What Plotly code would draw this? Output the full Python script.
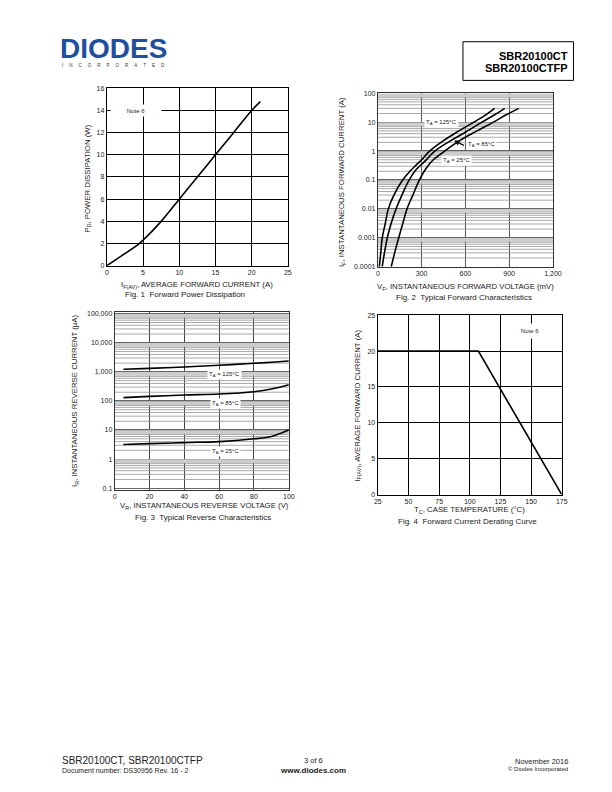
import plotly.graph_objects as go
import numpy as np

# page is 612x792; the default 8px body margin is accounted for by drawing a 596x776 figure
PAGE_W, PAGE_H = 612, 792
OFF = 8
W, H = PAGE_W - 2 * OFF, PAGE_H - 2 * OFF

# ---------------- data ----------------
# Fig 1 forward power dissipation
f1_current = [0, 1.6, 4.3, 5, 7.5, 10, 12.5, 15, 17.5, 20, 21.2]
f1_power = [0, 0.7, 1.9, 2.3, 4.0, 6.0, 8.0, 10.0, 12.0, 14.0, 14.8]

# Fig 2 typical forward characteristics (mV, A)
f2_vf_125 = [10, 20, 30, 50, 72, 110, 170, 220, 260, 300, 355, 450, 550, 658, 740, 800]
f2_if_125 = [1e-4, 3e-4, 1e-3, 3e-3, 1e-2, 3e-2, 0.1, 0.2, 0.32, 0.5, 1, 2.3, 4.8, 10, 18, 30]
f2_vf_85 = [30, 45, 65, 90, 125, 165, 215, 260, 300, 340, 390, 500, 600, 714, 800, 870]
f2_if_85 = [1e-4, 3e-4, 1e-3, 3e-3, 1e-2, 3e-2, 0.1, 0.22, 0.35, 0.55, 1, 2.3, 4.5, 10, 18, 30]
f2_vf_25 = [92, 115, 143, 170, 200, 240, 285, 330, 380, 458, 560, 680, 792, 880, 966]
f2_if_25 = [1e-4, 3e-4, 1e-3, 3e-3, 1e-2, 3e-2, 0.1, 0.25, 0.5, 1, 2.3, 5, 10, 18, 30]
f2_xticks = [0, 300, 600, 900, 1200]
f2_xlabels = ["0", "300", "600", "900", "1,200"]
f2_yticks = [1e-4, 1e-3, 1e-2, 1e-1, 1, 10, 100]
f2_ylabels = ["0.0001", "0.001", "0.01", "0.1", "1", "10", "100"]

# Fig 3 typical reverse characteristics (V, uA)
f3_vr = [5, 20, 40, 60, 80, 90, 100]
f3_ir_125 = [1230, 1320, 1480, 1690, 1970, 2150, 2370]
f3_ir_85 = [130, 144, 160, 173, 208, 256, 360]
f3_ir_25 = [3.2, 3.4, 3.7, 4.0, 5.0, 6.0, 10.0]
f3_yticks = [0.1, 1, 10, 100, 1000, 10000, 100000]
f3_ylabels = ["0.1", "1", "10", "100", "1,000", "10,000", "100,000"]

# Fig 4 derating curve
f4_temp = [25, 107, 175]
f4_current = [20, 20, 0]

FONT = "Liberation Sans, Arial, sans-serif"


def px(x):
    return (x - OFF) / W


def py(y):
    return 1 - (y - OFF) / H


fig = go.Figure()


def minor_grid(xr, decades, axis_x, axis_y, mults, color, width):
    xs, ys = [], []
    for d in decades:
        for m in mults:
            v = m * 10 ** d
            xs += [xr[0], xr[1], None]
            ys += [v, v, None]
    fig.add_trace(go.Scatter(x=xs, y=ys, mode="lines", xaxis=axis_x, yaxis=axis_y,
                             line=dict(color=color, width=width), hoverinfo="skip",
                             showlegend=False))


# Fig 2 grids
minor_grid([0, 1200], range(-4, 2), "x2", "y2", [8, 9], "#cccccc", 2.2)
minor_grid([0, 1200], range(-4, 2), "x2", "y2", [2, 3, 4, 5, 6, 7], "#939393", 0.8)
# Fig 3 grids
minor_grid([0, 100], range(-1, 5), "x3", "y3", [8, 9], "#cccccc", 2.2)
minor_grid([0, 100], range(-1, 5), "x3", "y3", [2, 3, 4, 5, 6, 7], "#939393", 0.8)

curve = dict(color="black", width=1.6)

fig.add_trace(go.Scatter(x=f1_current, y=f1_power, mode="lines", line=dict(shape="spline", **curve),
                         xaxis="x", yaxis="y", showlegend=False))

for vx, iy in [(f2_vf_125, f2_if_125), (f2_vf_85, f2_if_85), (f2_vf_25, f2_if_25)]:
    fig.add_trace(go.Scatter(x=vx, y=iy, mode="lines", line=dict(shape="spline", **curve),
                             xaxis="x2", yaxis="y2", showlegend=False))

for iy in [f3_ir_125, f3_ir_85, f3_ir_25]:
    fig.add_trace(go.Scatter(x=f3_vr, y=iy, mode="lines", line=dict(shape="spline", **curve),
                             xaxis="x3", yaxis="y3", showlegend=False))

fig.add_trace(go.Scatter(x=f4_temp, y=f4_current, mode="lines", line=curve,
                         xaxis="x4", yaxis="y4", showlegend=False))

tickfont = dict(family=FONT, size=7, color="#222")


def lin_axis(dom, rng, dtick, anchor):
    return dict(domain=dom, range=rng, dtick=dtick, anchor=anchor, showgrid=True,
                gridcolor="black", gridwidth=1, showline=True, mirror=True,
                linecolor="black", linewidth=1.2, zeroline=False, ticks="",
                tickfont=tickfont, fixedrange=True)


fig.update_layout(
    width=W, height=H, autosize=False,
    margin=dict(l=0, r=0, t=0, b=0),
    paper_bgcolor="white", plot_bgcolor="white",
    showlegend=False,
    xaxis=lin_axis([px(105), px(290)], [0, 25], 5, "y"),
    yaxis=lin_axis([py(264), py(85)], [0, 16], 2, "x"),
    xaxis4=lin_axis([px(382), px(570)], [25, 175], 25, "y4"),
    yaxis4=lin_axis([py(495), py(314)], [0, 25], 5, "x4"),
    xaxis2=dict(domain=[px(382), px(561)], range=[0, 1200], anchor="y2",
                tickvals=f2_xticks, ticktext=f2_xlabels, showgrid=True,
                gridcolor="#555", gridwidth=1, showline=True, mirror=True,
                linecolor="#333", linewidth=1, zeroline=False, tickfont=tickfont),
    yaxis2=dict(domain=[py(265), py(90)], type="log", range=[-4, 2], anchor="x2",
                tickvals=f2_yticks, ticktext=f2_ylabels, showgrid=True,
                gridcolor="#666", gridwidth=1.2, showline=True, mirror=True,
                linecolor="#333", linewidth=1, zeroline=False, tickfont=tickfont),
    xaxis3=dict(domain=[px(113), px(291)], range=[0, 100], anchor="y3", dtick=20,
                showgrid=True, gridcolor="#444", gridwidth=1, showline=True, mirror=True,
                linecolor="#333", linewidth=1, zeroline=False, tickfont=tickfont),
    yaxis3=dict(domain=[py(490), py(311)], type="log", range=[-1.05, 5.05], anchor="x3",
                tickvals=f3_yticks, ticktext=f3_ylabels, showgrid=True,
                gridcolor="#666", gridwidth=1.2, showline=True, mirror=True,
                linecolor="#333", linewidth=1, zeroline=False, tickfont=tickfont),
)

ann = []
tf = dict(family=FONT, size=7.8, color="#222")
cap = dict(family=FONT, size=8, color="#222")
small = dict(family=FONT, size=6, color="#222")


def text(x, y, s, font=tf, angle=0, xanchor="center", borderpad=0, **kw):
    ann.append(dict(x=px(x), y=py(y), xref="paper", yref="paper", text=s, showarrow=False,
                    font=font, textangle=angle, xanchor=xanchor, yanchor="middle",
                    borderpad=borderpad, **kw))


# Fig 1 texts
text(86, 176, "P<sub>D</sub>, POWER DISSIPATION (W)", angle=-90)
text(197, 283, "I<sub>F(AV)</sub>, AVERAGE FORWARD CURRENT (A)")
text(185, 293, "Fig. 1  Forward Power Dissipation", font=cap)
ann.append(dict(x=4.05, y=14, xref="x", yref="y", text="Note 6", showarrow=False,
                font=small, bgcolor="white", width=48, height=9))

# Fig 2 texts
text(346, 180, "I<sub>F</sub>, INSTANTANEOUS FORWARD CURRENT (A)", angle=-90)
text(472, 285, "V<sub>F</sub>, INSTANTANEOUS FORWARD VOLTAGE (mV)")
text(470, 296, "Fig. 2  Typical Forward Characteristics", font=cap)
ann.append(dict(x=436, y=np.log10(10), xref="x2", yref="y2", text="T<sub>A</sub> = 125°C",
                showarrow=False, font=small, bgcolor="white"))
ann.append(dict(x=711, y=np.log10(1.65), xref="x2", yref="y2", text="T<sub>A</sub> = 85°C",
                showarrow=False, font=small, bgcolor="white"))
ann.append(dict(x=536, y=np.log10(0.47), xref="x2", yref="y2", text="T<sub>A</sub> = 25°C",
                showarrow=False, font=small, bgcolor="white"))
ann.append(dict(x=523, y=np.log10(2.3), xref="x2", yref="y2", text=" ",
                showarrow=True, ax=610, ay=np.log10(1.4), axref="x2", ayref="y2",
                arrowhead=2, arrowsize=0.9, arrowwidth=1.2, arrowcolor="black", standoff=0))

# Fig 3 texts
text(73, 400, "I<sub>R</sub>, INSTANTANEOUS REVERSE CURRENT (µA)", angle=-90)
text(205, 507, "V<sub>R</sub>, INSTANTANEOUS REVERSE VOLTAGE (V)")
text(203, 518, "Fig. 3  Typical Reverse Characteristics", font=cap)
ann.append(dict(x=63, y=np.log10(800), xref="x3", yref="y3", text="T<sub>A</sub> = 125°C",
                showarrow=False, font=small, bgcolor="white"))
ann.append(dict(x=63.5, y=np.log10(82), xref="x3", yref="y3", text="T<sub>A</sub> = 85°C",
                showarrow=False, font=small, bgcolor="white"))
ann.append(dict(x=63.5, y=np.log10(1.9), xref="x3", yref="y3", text="T<sub>A</sub> = 25°C",
                showarrow=False, font=small, bgcolor="white"))

# Fig 4 texts
text(362, 405, "I<sub>F(AV)</sub>, AVERAGE FORWARD CURRENT (A)", angle=-90)
text(476, 511, "T<sub>C</sub>, CASE TEMPERATURE (°C)")
text(474, 522, "Fig. 4  Forward Current Derating Curve", font=cap)
ann.append(dict(x=148.7, y=22.8, xref="x4", yref="y4", text="Note 6", showarrow=False,
                font=small, bgcolor="white", width=34, height=12))

# Header
text(112, 44.5, "<b>DIODES</b>", font=dict(family=FONT, size=28, color="#1f4f9e"), height=26)
gap = "\u2003\u2004"
text(112, 62, gap.join("INCORPORATED"), font=dict(family=FONT, size=4.5, color="#333"))
text(577, 52, "<b>SBR20100CT</b>", font=dict(family=FONT, size=11, color="black"), xanchor="right")
text(577, 65, "<b>SBR20100CTFP</b>", font=dict(family=FONT, size=11, color="black"), xanchor="right")

# Footer
text(58, 763, "SBR20100CT, SBR20100CTFP", font=dict(family=FONT, size=10, color="#222"), xanchor="left")
text(58, 773, "Document number: DS30956 Rev. 16 - 2", font=dict(family=FONT, size=7, color="#222"), xanchor="left")
text(316, 763, "3 of 6", font=dict(family=FONT, size=7.5, color="#222"))
text(316, 773, "<b>www.diodes.com</b>", font=dict(family=FONT, size=8, color="#222"))
text(577, 764, "November 2016", font=dict(family=FONT, size=7.5, color="#222"), xanchor="right")
text(577, 772, "© Diodes Incorporated", font=dict(family=FONT, size=6, color="#222"), xanchor="right")

fig.update_layout(annotations=ann)

fig.add_shape(type="rect", xref="paper", yref="paper", x0=px(469), x1=px(582),
              y0=py(77), y1=py(38), line=dict(color="black", width=1))

fig.write_html("out.html", config={"displayModeBar": False, "staticPlot": True})
